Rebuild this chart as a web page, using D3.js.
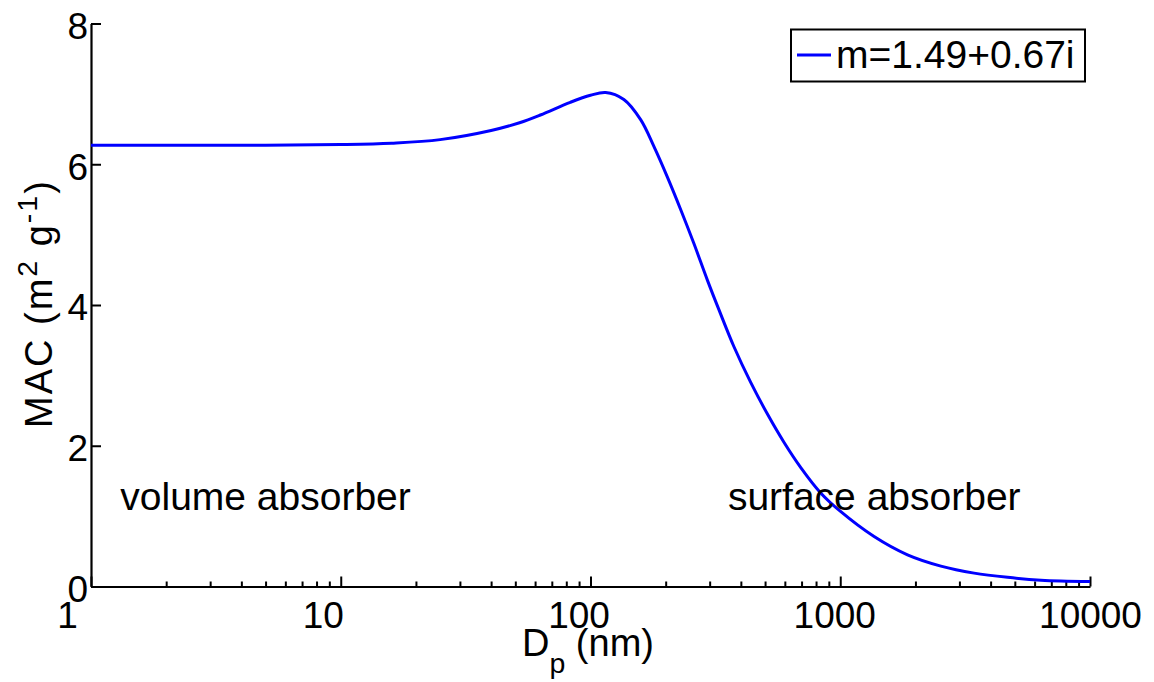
<!DOCTYPE html>
<html>
<head>
<meta charset="utf-8">
<script src="https://cdn.jsdelivr.net/npm/d3@7"></script>
<style>
  html, body { margin: 0; padding: 0; background: #fff; }
  svg { display: block; font-family: "Liberation Sans", Arial, Helvetica, sans-serif; }
</style>
</head>
<body>
<svg id="chart" width="1154" height="682"></svg>
<script>
// ---- data ----
const diameterNm = [1, 2, 5, 10, 16, 25, 40, 52, 63, 83, 100, 115, 136, 159, 179, 203, 230, 259, 294, 327, 375, 438, 511, 595, 695, 835, 1000, 1366, 1859, 2529, 3437, 4677, 6365, 10000];
const macValues  = [6.27, 6.27, 6.27, 6.28, 6.30, 6.35, 6.48, 6.59, 6.70, 6.88, 6.98, 7.02, 6.92, 6.63, 6.26, 5.82, 5.35, 4.88, 4.35, 3.93, 3.41, 2.90, 2.45, 2.05, 1.69, 1.33, 1.07, 0.71, 0.45, 0.29, 0.19, 0.13, 0.09, 0.07];
const xTickValues = [1, 10, 100, 1000, 10000];
const xTickLabels = ["1", "10", "100", "1000", "10000"];
const yTickValues = [0, 2, 4, 6, 8];
const legendLabel = "m=1.49+0.67i";
const annotations = [
  { text: "volume absorber", d: 1.31, v: 1.08 },
  { text: "surface absorber", d: 355, v: 1.08 }
];

(function () {
// ---- layout ----
const svg = d3.select("#chart");
const mLeft = 91, mRight = 1090, mTop = 23.5, mBottom = 586.5;
const FONT = 38;
const TICKFONT = 37;

const x = d3.scaleLog().domain([1, 10000]).range([mLeft, mRight]);
const y = d3.scaleLinear().domain([0, 8]).range([mBottom, mTop]);

// minor ticks (2..9 per decade)
const minor = [];
for (let e = 0; e < 4; e++) for (let k = 2; k <= 9; k++) minor.push(k * Math.pow(10, e));

// x axis
const gx = svg.append("g").attr("transform", `translate(0,${mBottom})`);
gx.call(d3.axisBottom(x).tickValues(minor).tickSize(-5).tickSizeOuter(0).tickFormat(""));
gx.call(g => g.selectAll("path.domain").remove());
const gx2 = svg.append("g").attr("transform", `translate(0,${mBottom})`)
  .call(d3.axisBottom(x).tickValues(xTickValues).tickSize(-10).tickSizeOuter(0)
        .tickFormat((d, i) => xTickLabels[i]));
gx2.select("path.domain").attr("stroke", "#000").attr("stroke-width", 2.2);
svg.selectAll("g .tick line").attr("stroke", "#000").attr("stroke-width", 2);
gx2.selectAll("text")
  .attr("font-size", TICKFONT).attr("fill", "#000")
  .attr("font-family", "Liberation Sans, Arial, sans-serif")
  .attr("y", 0).attr("dy", 41)
  .attr("dx", (d, i) => -6 * (5 - xTickLabels[i].length));

// y axis
const gy = svg.append("g").attr("transform", `translate(${mLeft},0)`)
  .call(d3.axisLeft(y).tickValues(yTickValues).tickSize(-10).tickSizeOuter(0).tickFormat(d3.format("d")));
gy.select("path.domain").attr("stroke", "#000").attr("stroke-width", 2.2);
gy.selectAll(".tick line").attr("stroke", "#000").attr("stroke-width", 2);
gy.selectAll("text")
  .attr("font-size", TICKFONT).attr("fill", "#000")
  .attr("font-family", "Liberation Sans, Arial, sans-serif")
  .attr("x", -3).attr("dy", "0.40em");

// curve
const line = d3.line()
  .x((d, i) => x(diameterNm[i]))
  .y(d => y(d))
  .curve(d3.curveCatmullRom.alpha(0.5));
svg.append("path")
  .datum(macValues)
  .attr("d", line)
  .attr("fill", "none")
  .attr("stroke", "#0000ff")
  .attr("stroke-width", 3);

// annotations
annotations.forEach(a => {
  svg.append("text")
    .attr("x", x(a.d)).attr("y", y(a.v))
    .attr("font-size", 39).attr("fill", "#000")
    .text(a.text);
});

// axis labels
const xl = svg.append("text")
  .attr("x", 522).attr("y", 656)
  .attr("font-size", FONT).attr("fill", "#000");
xl.append("tspan").text("D");
xl.append("tspan").attr("font-size", FONT * 0.75).attr("dy", 17).text("p");
xl.append("tspan").attr("dy", -17).text(" (nm)");

const yl = svg.append("text")
  .attr("transform", `translate(52,428) rotate(-90)`)
  .attr("font-size", FONT).attr("letter-spacing", 2).attr("fill", "#000");
yl.append("tspan").text("MAC (m");
yl.append("tspan").attr("font-size", FONT * 0.75).attr("dy", -15).text("2");
yl.append("tspan").attr("dy", 15).text(" g");
yl.append("tspan").attr("font-size", FONT * 0.75).attr("dy", -15).text("-1");
yl.append("tspan").attr("dy", 15).text(")");

// legend
const lg = svg.append("g");
lg.append("rect")
  .attr("x", 791).attr("y", 29.5).attr("width", 294).attr("height", 52)
  .attr("fill", "#fff").attr("stroke", "#000").attr("stroke-width", 2);
lg.append("line")
  .attr("x1", 797).attr("x2", 831).attr("y1", 55).attr("y2", 55)
  .attr("stroke", "#0000ff").attr("stroke-width", 3);
lg.append("text")
  .attr("x", 836).attr("y", 68)
  .attr("font-size", 39).attr("fill", "#000")
  .text(legendLabel);
})();
</script>
</body>
</html>
